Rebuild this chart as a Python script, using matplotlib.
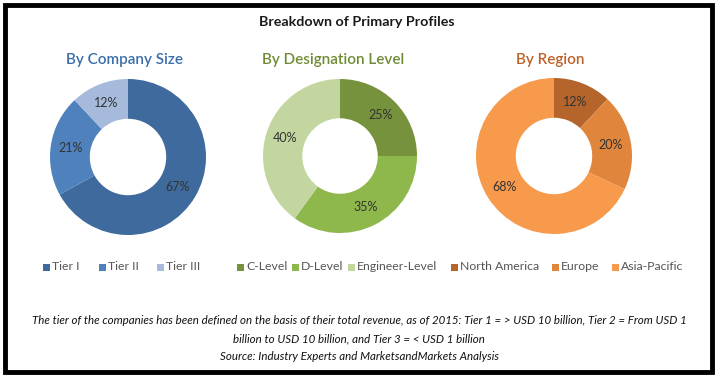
import matplotlib
matplotlib.use("Agg")
import matplotlib.pyplot as plt
from matplotlib.patches import Rectangle

plt.rcParams['font.family'] = ['Lato', 'DejaVu Sans']

W, H = 717, 376

# data
size_labels = ["Tier I", "Tier II", "Tier III"]
size_values = [67, 21, 12]
desig_labels = ["C-Level", "D-Level", "Engineer-Level"]
desig_values = [25, 35, 40]
region_labels = ["North America", "Europe", "Asia-Pacific"]
region_values = [12, 20, 68]

size_colors = ["#3F6A9E", "#4F81BD", "#A6BADB"]
desig_colors = ["#76923C", "#8FB84C", "#C4D6A0"]
region_colors = ["#B5652B", "#E0853C", "#F79A4B"]

fig = plt.figure(figsize=(W / 100, H / 100), dpi=100)

# outer black frame
fig.patches.append(Rectangle((5 / W, 4 / H), 707 / W, 367 / H, transform=fig.transFigure,
                             fill=False, edgecolor="black", linewidth=3.5))

fig.text(357 / W, 1 - 22 / H, "Breakdown of Primary Profiles", ha="center", va="center",
         fontsize=10.3, fontweight="bold", color="#1a1a1a")


def donut(cx, cy, r, values, colors, title, tcolor, tx):
    ax = fig.add_axes([(cx - r) / W, 1 - (cy + r) / H, 2 * r / W, 2 * r / H])
    ax.pie(values, colors=colors, startangle=90, counterclock=False,
           wedgeprops=dict(width=0.51, edgecolor="none"),
           autopct="%d%%", pctdistance=0.745,
           textprops=dict(fontsize=9, color="#333333"))
    ax.set_xlim(-1, 1)
    ax.set_ylim(-1, 1)
    ax.set_aspect("auto")
    ax.axis("off")
    fig.text(tx / W, 1 - 60 / H, title, ha="center", va="center", fontsize=11,
             fontweight="semibold", color=tcolor)


donut(128, 157, 78, size_values, size_colors, "By Company Size", "#3A6DAA", 124)
donut(340, 156, 77, desig_values, desig_colors, "By Designation Level", "#6F8C34", 333)
donut(554, 156, 78, region_values, region_colors, "By Region", "#BE622A", 550)


def legend(labels, colors, xs):
    y = 267
    for lab, c, x in zip(labels, colors, xs):
        fig.patches.append(Rectangle((x / W, 1 - (y + 3.5) / H), 7 / W, 7 / H,
                                     transform=fig.transFigure, facecolor=c, edgecolor="none"))
        fig.text((x + 9) / W, 1 - y / H, lab, ha="left", va="center", fontsize=8.8,
                 color="#555555")


legend(size_labels, size_colors, [43, 99, 157])
legend(desig_labels, desig_colors, [237, 292, 348])
legend(region_labels, region_colors, [451, 552, 612])

notes = [
    "The tier of the companies has been defined on the basis of their total revenue, as of 2015: Tier 1 = > USD 10 billion, Tier 2 = From USD 1",
    "billion to USD 10 billion, and Tier 3 = < USD 1 billion",
    "Source: Industry Experts and MarketsandMarkets Analysis",
]
for y, t in zip([321, 339, 356], notes):
    fig.text(359 / W, 1 - y / H, t, ha="center", va="center", fontsize=8.3,
             style="italic", color="#111111")

fig.savefig("out.png", dpi=100)
